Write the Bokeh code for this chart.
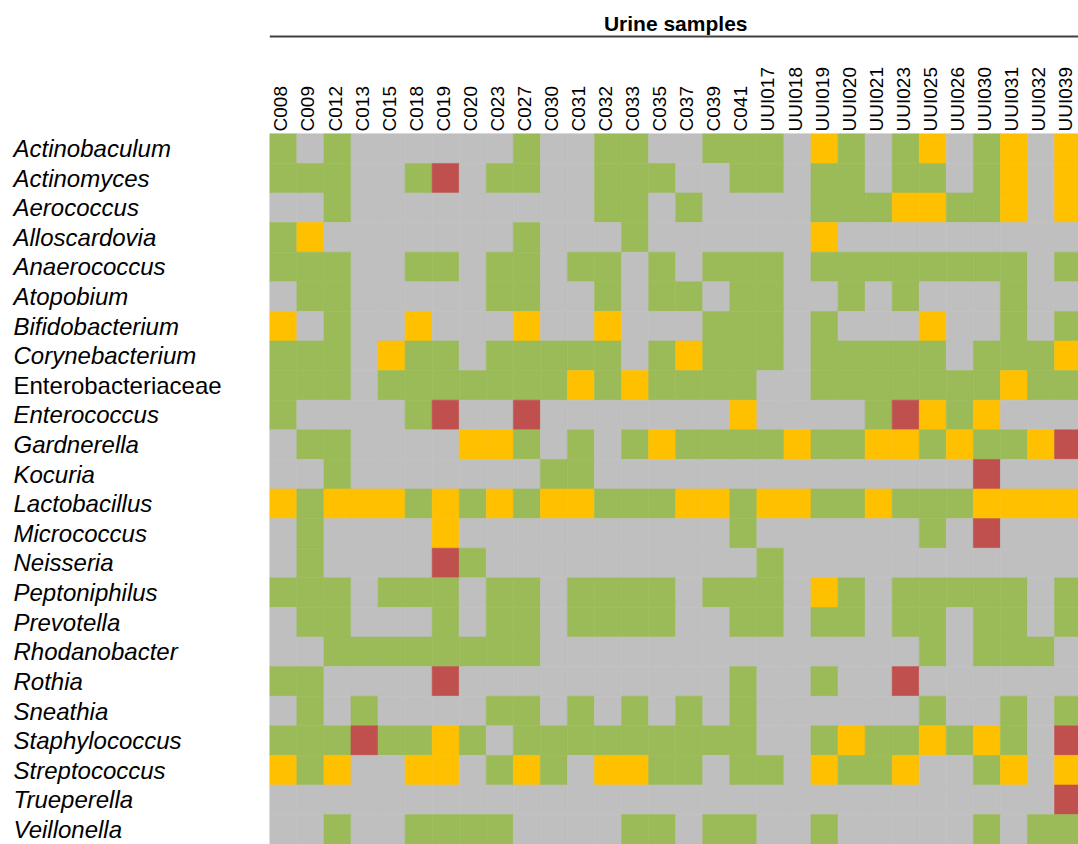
import math
from bokeh.plotting import figure
from bokeh.models import ColumnDataSource, Range1d
from bokeh.core.properties import value
from bokeh.embed import file_html
from bokeh.resources import INLINE

title_text = "Urine samples"

samples = ["C008", "C009", "C012", "C013", "C015", "C018", "C019", "C020", "C023", "C027",
           "C030", "C031", "C032", "C033", "C035", "C037", "C039", "C041", "UUI017", "UUI018",
           "UUI019", "UUI020", "UUI021", "UUI023", "UUI025", "UUI026", "UUI030", "UUI031",
           "UUI032", "UUI039"]

genera = ["Actinobaculum", "Actinomyces", "Aerococcus", "Alloscardovia", "Anaerococcus",
          "Atopobium", "Bifidobacterium", "Corynebacterium", "Enterobacteriaceae",
          "Enterococcus", "Gardnerella", "Kocuria", "Lactobacillus", "Micrococcus",
          "Neisseria", "Peptoniphilus", "Prevotella", "Rhodanobacter", "Rothia", "Sneathia",
          "Staphylococcus", "Streptococcus", "Trueperella", "Veillonella"]

# Non-italic (non-genus) labels
upright = ["Enterobacteriaceae"]

# Cell status per genus across samples: G = green, X = grey, Y = amber, R = red
status = [
    "GXGXXXXXXGXXGGXXGGGXYGXGYXGYXY",
    "GGGXXGRXGGXXGGGXXGGXGGXGGXGYXY",
    "XXGXXXXXXXXXGGXGXXXXGGGYYGGYXY",
    "GYXXXXXXXGXXXGXXXXXXYXXXXXXXXX",
    "GGGXXGGXGGXGGXGXGGGXGGGGGGGGXG",
    "XGGXXXXXGGXXGXGGXGGXXGXGXXXGXX",
    "YXGXXYXXXYXXYXXXGGGXGXXXYXXGXG",
    "GGGXYGGXGGGGGXGYGGGXGGGGGXGGGY",
    "GGGXGGGGGGGYGYGGGGXXGGGGGGGYGG",
    "GXXXXGRXXRXXXXXXXYXXXXGRYGYXXX",
    "XGGXXXXYYGXGXGYGGGGYGGYYGYGGYR",
    "XXGXXXXXXXGGXXXXXXXXXXXXXXRXXX",
    "YGYYYGYGYGYYGGGYYGYYGGYGGGYYYY",
    "XGXXXXYXXXXXXXXXXGXXXXXXGXRXXX",
    "XGXXXXRGXXXXXXXXXXGXXXXXXXXXXX",
    "GGGXGGGXGGXGGGGXGGGXYGXGGGGGXG",
    "XGGXXXGXGGXGGGGXXGGXGGXGGXGGXG",
    "XXGGGGGGGGXXXXXXXXXXXXXXGXGGGX",
    "GGXXXXRXXXXXXXXXXGXXGXXRXXXXXX",
    "XGXGXXXXGGXGXGXGXGXXXXXXGXXGXG",
    "GGGRGGYGXGGGGGGGGGXXGYGGYGYGXR",
    "YGYXXYYXGYGXYYGGXGGXYGGYXXGYXY",
    "XXXXXXXXXXXXXXXXXXXXXXXXXXXXXR",
    "XXGXXGGGGXXXXGGXGGXXGXXXXXGXGG",
]

palette = {"G": "#9BBB59", "X": "#BFBFBF", "Y": "#FFC000", "R": "#C0504D"}

# ---- cells ----
xs, ys, cols = [], [], []
for j, row in enumerate(status):
    for i, code in enumerate(row):
        xs.append(i + 0.5)
        ys.append(j + 0.5)
        cols.append(palette[code])
cells = ColumnDataSource(dict(x=xs, y=ys, c=cols))

W, H = 1078, 844
p = figure(width=W, height=H, output_backend="svg", toolbar_location=None,
           x_axis_type=None, y_axis_type=None,
           x_range=Range1d(-9.952, 29.885), y_range=Range1d(24.01, -4.503),
           min_border=0, min_border_left=0, min_border_right=0,
           min_border_top=0, min_border_bottom=0)
p.outline_line_color = None
p.grid.visible = False
p.background_fill_color = "white"
p.border_fill_color = "white"

p.rect(x="x", y="y", width=1.0, height=1.0, source=cells,
       fill_color="c", line_color="c", line_width=0.6)

# ---- column labels ----
col_src = ColumnDataSource(dict(x=[i + 0.41 for i in range(len(samples))],
                                y=[-0.08] * len(samples), t=samples))
p.text(x="x", y="y", text="t", source=col_src, angle=math.pi / 2,
       text_align="left", text_baseline="middle",
       text_font=value("Liberation Sans"), text_font_size="19px", text_color="#000000")

# ---- row labels ----
ital = [g for g in genera if g not in upright]
row_it = ColumnDataSource(dict(x=[-9.471] * len(ital),
                               y=[genera.index(g) + 0.5 for g in ital], t=ital))
p.text(x="x", y="y", text="t", source=row_it, text_align="left", text_baseline="middle",
       text_font=value("Liberation Sans"), text_font_size="24px",
       text_font_style="italic", text_color="#000000")
row_up = ColumnDataSource(dict(x=[-9.471] * len(upright),
                               y=[genera.index(g) + 0.5 for g in upright], t=upright))
p.text(x="x", y="y", text="t", source=row_up, text_align="left", text_baseline="middle",
       text_font=value("Liberation Sans"), text_font_size="24px", text_color="#000000")

# ---- header ----
p.text(x=[len(samples) / 2], y=[-3.71], text=[title_text], text_align="center",
       text_baseline="middle", text_font=value("Liberation Sans"),
       text_font_size="21px", text_font_style="bold", text_color="#000000")
p.segment(x0=[0], y0=[-3.287], x1=[len(samples)], y1=[-3.287],
          line_color="#404040", line_width=2)

open("out.html", "w").write(file_html(p, INLINE))
